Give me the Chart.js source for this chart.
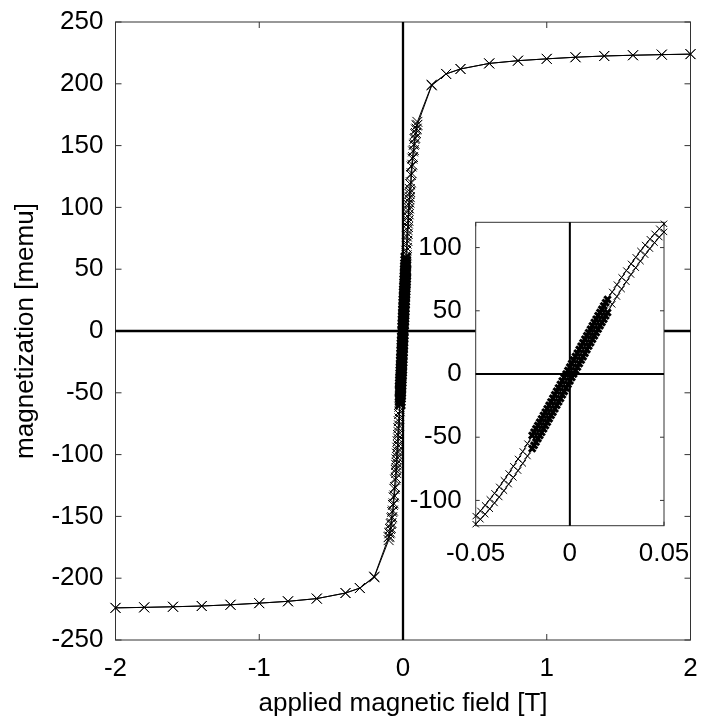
<!DOCTYPE html>
<html><head><meta charset="utf-8">
<script src="https://cdn.jsdelivr.net/npm/chart.js@4.4.1/dist/chart.umd.min.js"></script>
<style>
html,body{margin:0;padding:0;background:#fff;}
#wrap{position:relative;width:703px;height:724px;overflow:hidden;}
#main{position:absolute;left:0;top:0;}
#inset{position:absolute;left:400px;top:200px;}
</style></head><body>
<div id="wrap"><canvas id="main" width="703" height="724"></canvas><canvas id="inset" width="303" height="370"></canvas></div>
<script>
// applied magnetic field [T]
const field = [
  -2, -1.8, -1.6, -1.4, -1.2, -1, -0.8, -0.6, -0.4, -0.3, -0.2, -0.1,
  -0.095, -0.09, -0.085, -0.08, -0.075, -0.07, -0.065, -0.06, -0.055, -0.05,
  -0.0475, -0.045, -0.0425, -0.04, -0.0375, -0.035, -0.0325, -0.03, -0.0275, -0.025, -0.0225, -0.02,
  -0.019, -0.018, -0.017, -0.016, -0.015, -0.014, -0.013, -0.012, -0.011, -0.01,
  -0.009, -0.008, -0.007, -0.006, -0.005, -0.004, -0.003, -0.002, -0.001,
  0,
  0.001, 0.002, 0.003, 0.004, 0.005, 0.006, 0.007, 0.008, 0.009, 0.01,
  0.011, 0.012, 0.013, 0.014, 0.015, 0.016, 0.017, 0.018, 0.019, 0.02,
  0.0225, 0.025, 0.0275, 0.03, 0.0325, 0.035, 0.0375, 0.04, 0.0425, 0.045, 0.0475, 0.05,
  0.055, 0.06, 0.065, 0.07, 0.075, 0.08, 0.085, 0.09, 0.095, 0.1,
  0.2, 0.3, 0.4, 0.6, 0.8, 1, 1.2, 1.4, 1.6, 1.8, 2
];
// magnetization [memu], branch measured from +2 T down to -2 T
const magDescending = [
  -224.0, -223.6, -223.1, -222.5, -221.5, -220.2, -218.7, -216.5, -212.0, -208.0, -198.7, -166.8,
  -163.7, -160.2, -156.2, -151.5, -146.4, -140.7, -134.5, -127.7, -120.3, -112.4,
  -108.3, -103.9, -99.2, -94.4, -89.3, -84.1, -78.7, -73.0, -67.2, -61.3, -55.1, -48.6,
  -46.0, -43.4, -40.8, -38.2, -35.5, -32.8, -30.2, -27.5, -24.8, -22.1,
  -19.2, -16.5, -13.7, -11.0, -8.3, -5.5, -2.8, 0.0, 2.7,
  5.5,
  8.3, 11.0, 13.8, 16.5, 19.3, 22.0, 24.7, 27.5, 30.2, 32.7,
  35.4, 38.1, 40.8, 43.4, 46.1, 48.6, 51.2, 53.8, 56.4, 59.0,
  64.9, 70.7, 76.4, 81.8, 87.1, 92.3, 97.3, 102.0, 106.6, 110.9, 114.9, 118.8,
  126.3, 133.1, 139.5, 145.3, 150.6, 155.3, 159.4, 163.0, 166.3, 169.2,
  199.3, 208.0, 212.0, 216.5, 218.7, 220.2, 221.5, 222.5, 223.1, 223.6, 224.0
];
// magnetization [memu], branch measured from -2 T up to +2 T
const magAscending = [
  -224.0, -223.6, -223.1, -222.5, -221.5, -220.2, -218.7, -216.5, -212.0, -208.0, -199.3, -169.2,
  -166.3, -163.0, -159.4, -155.3, -150.6, -145.3, -139.5, -133.1, -126.3, -118.8,
  -114.9, -110.9, -106.6, -102.0, -97.3, -92.3, -87.1, -81.8, -76.4, -70.7, -64.9, -59.0,
  -56.4, -53.8, -51.2, -48.6, -46.1, -43.4, -40.8, -38.1, -35.4, -32.7,
  -30.2, -27.5, -24.7, -22.0, -19.3, -16.5, -13.8, -11.0, -8.3,
  -5.5,
  -2.7, 0.0, 2.8, 5.5, 8.3, 11.0, 13.7, 16.5, 19.2, 22.1,
  24.8, 27.5, 30.2, 32.8, 35.5, 38.2, 40.8, 43.4, 46.0, 48.6,
  55.1, 61.3, 67.2, 73.0, 78.7, 84.1, 89.3, 94.4, 99.2, 103.9, 108.3, 112.4,
  120.3, 127.7, 134.5, 140.7, 146.4, 151.5, 156.2, 160.2, 163.7, 166.8,
  198.7, 208.0, 212.0, 216.5, 218.7, 220.2, 221.5, 222.5, 223.1, 223.6, 224.0
];
const mainXTicks = [-2, -1, 0, 1, 2];
const mainYTicks = [-250, -200, -150, -100, -50, 0, 50, 100, 150, 200, 250];
const insetXTicks = [-0.05, 0, 0.05];
const insetXLabels = ['-0.05', '0', '0.05'];
const insetYTicks = [-100, -50, 0, 50, 100];
const xTitle = 'applied magnetic field [T]';
const yTitle = 'magnetization [memu]';

Chart.defaults.font.family = "'Liberation Sans', Arial, sans-serif";
Chart.defaults.font.size = 26;
Chart.defaults.color = '#000';

function toPoints(ys, keep) {
  const out = [];
  field.forEach((h, i) => { if (!keep || keep(h)) out.push({x: h, y: ys[i]}); });
  return out;
}

function decor(cfg) {
  return {
    id: 'decor',
    beforeDraw(chart) {
      if (!cfg.fill) return;
      const a = chart.chartArea, c = chart.ctx;
      c.save(); c.fillStyle = '#fff';
      c.fillRect(a.left, a.top, a.right - a.left, a.bottom - a.top);
      c.restore();
    },
    beforeDatasetsDraw(chart) {
      const {ctx, chartArea: a} = chart;
      const x = chart.scales.x, y = chart.scales.y;
      ctx.save();
      ctx.strokeStyle = cfg.frameColor; ctx.lineWidth = 1;
      ctx.strokeRect(a.left, a.top, a.right - a.left, a.bottom - a.top);
      ctx.beginPath();
      x.ticks.forEach(t => {
        const p = x.getPixelForValue(t.value);
        ctx.moveTo(p, a.bottom); ctx.lineTo(p, a.bottom - cfg.tick);
        ctx.moveTo(p, a.top); ctx.lineTo(p, a.top + cfg.tick);
      });
      y.ticks.forEach(t => {
        const p = y.getPixelForValue(t.value);
        ctx.moveTo(a.left, p); ctx.lineTo(a.left + cfg.tick, p);
        ctx.moveTo(a.right, p); ctx.lineTo(a.right - cfg.tick, p);
      });
      ctx.stroke();
      ctx.strokeStyle = '#000'; ctx.lineWidth = cfg.zero;
      const y0 = y.getPixelForValue(0), x0 = x.getPixelForValue(0);
      ctx.beginPath();
      ctx.moveTo(a.left, y0); ctx.lineTo(a.right, y0);
      ctx.moveTo(x0, a.top); ctx.lineTo(x0, a.bottom);
      ctx.stroke();
      ctx.restore();
    }
  };
}

function branch(ys, r, denseWidth, keep) {
  return {
    data: toPoints(ys, keep),
    showLine: true,
    borderColor: '#000',
    borderWidth: 1,
    pointStyle: 'crossRot',
    pointRadius: r,
    pointBorderColor: '#000',
    pointBorderWidth: c => (c.raw && Math.abs(c.raw.x) <= 0.0205) ? denseWidth : 1,
    pointBackgroundColor: '#000',
    tension: 0,
    clip: false
  };
}

function noPad(s) { s.paddingTop = 0; s.paddingBottom = 0; s.paddingLeft = 0; s.paddingRight = 0; }
const noGrid = { display: false, drawTicks: false };

new Chart(document.getElementById('main'), {
  type: 'scatter',
  data: { datasets: [branch(magDescending, 7, 2.5), branch(magAscending, 7, 2.5)] },
  options: {
    responsive: false, animation: false, devicePixelRatio: 1,
    layout: { padding: { left: 0, top: 22, right: 12.5, bottom: 0 } },
    plugins: { legend: { display: false }, tooltip: { enabled: false } },
    scales: {
      x: {
        type: 'linear', min: -2, max: 2,
        grid: noGrid, border: { display: false },
        afterBuildTicks: s => { s.ticks = mainXTicks.map(v => ({value: v})); },
        afterFit: s => { s.height = 84; noPad(s); },
        ticks: { padding: 13, autoSkip: false, maxRotation: 0, callback: v => String(v) },
        title: { display: true, text: xTitle, padding: { top: 0, bottom: 5 } }
      },
      y: {
        type: 'linear', min: -250, max: 250,
        grid: noGrid, border: { display: false },
        afterBuildTicks: s => { s.ticks = mainYTicks.map(v => ({value: v})); },
        afterFit: s => { s.width = 115.5; noPad(s); },
        ticks: { padding: 12, autoSkip: false, callback: v => String(v) },
        title: { display: true, text: yTitle, padding: { top: 10, bottom: 0 } }
      }
    }
  },
  plugins: [decor({ fill: false, frameColor: '#333', tick: 6, zero: 2.3 })]
});

const inRange = h => h >= -0.05 && h <= 0.05;
new Chart(document.getElementById('inset'), {
  type: 'scatter',
  data: { datasets: [branch(magDescending, 4.5, 3, inRange), branch(magAscending, 4.5, 3, inRange)] },
  options: {
    responsive: false, animation: false, devicePixelRatio: 1,
    layout: { padding: { left: 0, top: 22.3, right: 39, bottom: 0 } },
    plugins: { legend: { display: false }, tooltip: { enabled: false } },
    scales: {
      x: {
        type: 'linear', min: -0.05, max: 0.05,
        grid: noGrid, border: { display: false },
        afterBuildTicks: s => { s.ticks = insetXTicks.map(v => ({value: v})); },
        afterFit: s => { s.height = 44.3; noPad(s); },
        ticks: { padding: 13, autoSkip: false, maxRotation: 0,
          callback: v => insetXLabels[insetXTicks.indexOf(v)] }
      },
      y: {
        type: 'linear', min: -120, max: 120,
        grid: noGrid, border: { display: false },
        afterBuildTicks: s => { s.ticks = insetYTicks.map(v => ({value: v})); },
        afterFit: s => { s.width = 75.7; noPad(s); },
        ticks: { padding: 14, autoSkip: false, callback: v => String(v) }
      }
    }
  },
  plugins: [decor({ fill: true, frameColor: '#333', tick: 4, zero: 2 })]
});
</script>
</body></html>
